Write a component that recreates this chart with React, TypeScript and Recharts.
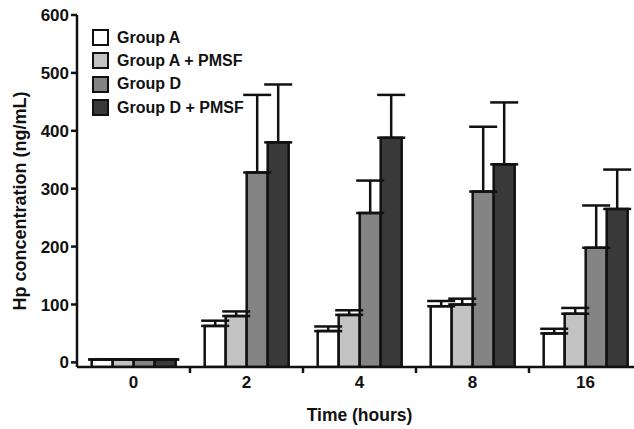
import React from "react"
import { BarChart, Bar, XAxis, YAxis, ErrorBar, Legend } from "recharts"

const times = ["0", "2", "4", "8", "16"]
const groupA = [5, 63, 54, 97, 50]
const groupAErr = [0, 9, 8, 9, 8]
const groupAPmsf = [5, 80, 82, 100, 84]
const groupAPmsfErr = [0, 8, 8, 10, 10]
const groupD = [5, 328, 258, 295, 198]
const groupDErr = [0, 134, 56, 112, 73]
const groupDPmsf = [5, 380, 388, 342, 265]
const groupDPmsfErr = [0, 100, 74, 107, 68]
const yTicks = [0, 100, 200, 300, 400, 500, 600]
const yFloor = -8

// bars start at the axis floor, as in the original figure
const data = times.map((t, i) => ({
  time: t,
  a: [yFloor, groupA[i]],
  aErr: [0, groupAErr[i]],
  ap: [yFloor, groupAPmsf[i]],
  apErr: [0, groupAPmsfErr[i]],
  d: [yFloor, groupD[i]],
  dErr: [0, groupDErr[i]],
  dp: [yFloor, groupDPmsf[i]],
  dpErr: [0, groupDPmsfErr[i]],
}))

const FONT = "'Liberation Sans', Arial, sans-serif"
const tickStyle = { fontSize: 17, fontWeight: 700, fill: "#111", fontFamily: FONT }

// category label plus a small tick mark on the boundary after each category
function TimeTick(props: any) {
  const { x, y, payload, index, visibleTicksCount } = props
  const half = payload && payload.offset ? payload.offset : 0
  const last = index === (visibleTicksCount ?? 5) - 1
  return (
    <g>
      {!last && half > 0 && (
        <line x1={x + half} x2={x + half} y1={367} y2={373} stroke="#111" strokeWidth={2.5} />
      )}
      <text
        x={x}
        y={y}
        dy={13}
        textAnchor="middle"
        style={{ fontSize: 17, fontWeight: 700, fill: "#111", fontFamily: FONT }}
      >
        {payload.value}
      </text>
    </g>
  )
}

function LegendBox({ payload }: any) {
  return (
    <div style={{ fontFamily: FONT, fontWeight: 700, fontSize: 16, color: "#111" }}>
      {(payload || []).map((p: any) => (
        <div key={p.value} style={{ display: "flex", alignItems: "center", height: 23.3 }}>
          <span
            style={{
              display: "inline-block",
              width: 17,
              height: 17,
              boxSizing: "border-box",
              border: "2.5px solid #111",
              background: p.color,
              marginRight: 8,
            }}
          />
          {p.value}
        </div>
      ))}
    </div>
  )
}

export default function App() {
  return (
    <div style={{ position: "absolute", left: 0, top: 0, width: 634, height: 429, overflow: "hidden", background: "#fff" }}>
      <BarChart
        width={642}
        height={429}
        data={data}
        margin={{ top: 15, right: 0, bottom: 0, left: 0 }}
        barCategoryGap="13%"
        barGap={0}
      >
        <XAxis
          dataKey="time"
          tickLine={false}
          tickSize={0}
          tickMargin={8}
          axisLine={{ stroke: "#111", strokeWidth: 2.5 }}
          tick={<TimeTick />}
          height={62}
          label={{
            content: (props: any) => {
              const vb = props.viewBox
              return (
                <text
                  x={vb.x + vb.width / 2}
                  y={415}
                  textAnchor="middle"
                  dominantBaseline="central"
                  style={{ fontSize: 17.5, fontWeight: 700, fill: "#111", fontFamily: FONT }}
                >
                  Time (hours)
                </text>
              )
            },
          }}
        />
        <XAxis
          xAxisId="top"
          orientation="top"
          dataKey="time"
          tick={false}
          tickLine={false}
          height={0}
          axisLine={{ stroke: "#111", strokeWidth: 2.5 }}
        />
        <YAxis
          domain={[yFloor, 600]}
          ticks={yTicks}
          allowDataOverflow
          width={77}
          tickSize={6}
          tickMargin={2}
          tickLine={{ stroke: "#111", strokeWidth: 2.5 }}
          axisLine={{ stroke: "#111", strokeWidth: 2.5 }}
          tick={tickStyle}
          label={{
            content: (props: any) => {
              const vb = props.viewBox
              const cy = vb.y + vb.height / 2 + 10
              return (
                <text
                  x={20}
                  y={cy}
                  transform={`rotate(-90 20 ${cy})`}
                  textAnchor="middle"
                  dominantBaseline="central"
                  style={{ fontSize: 18, fontWeight: 700, fill: "#111", fontFamily: FONT }}
                >
                  Hp concentration (ng/mL)
                </text>
              )
            },
          }}
        />
        <Legend
          layout="horizontal"
          align="center"
          verticalAlign="middle"
          content={<LegendBox />}
          wrapperStyle={{ left: 92, top: 26, width: "auto" }}
        />
        <Bar dataKey="a" name="Group A" fill="#ffffff" stroke="#111" strokeWidth={2.5} isAnimationActive={false}>
          <ErrorBar dataKey="aErr" direction="y" width={14} stroke="#111" strokeWidth={2.5} isAnimationActive={false} />
        </Bar>
        <Bar dataKey="ap" name="Group A + PMSF" fill="#c2c2c2" stroke="#111" strokeWidth={2.5} isAnimationActive={false}>
          <ErrorBar dataKey="apErr" direction="y" width={14} stroke="#111" strokeWidth={2.5} isAnimationActive={false} />
        </Bar>
        <Bar dataKey="d" name="Group D" fill="#848484" stroke="#111" strokeWidth={2.5} isAnimationActive={false}>
          <ErrorBar dataKey="dErr" direction="y" width={14} stroke="#111" strokeWidth={2.5} isAnimationActive={false} />
        </Bar>
        <Bar dataKey="dp" name="Group D + PMSF" fill="#393939" stroke="#111" strokeWidth={2.5} isAnimationActive={false}>
          <ErrorBar dataKey="dpErr" direction="y" width={14} stroke="#111" strokeWidth={2.5} isAnimationActive={false} />
        </Bar>
      </BarChart>
    </div>
  )
}
